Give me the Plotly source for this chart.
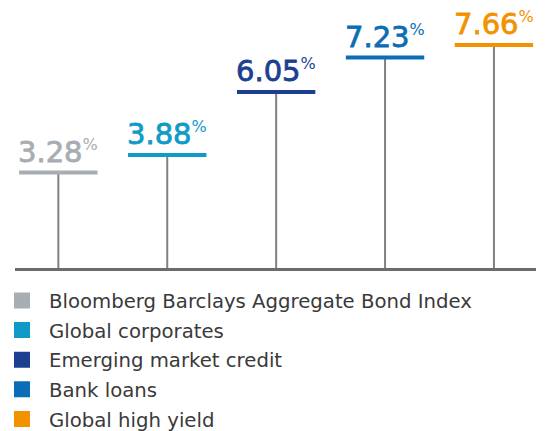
import plotly.graph_objects as go

categories = ["Bloomberg Barclays Aggregate Bond Index", "Global corporates",
              "Emerging market credit", "Bank loans", "Global high yield"]
values = [3.28, 3.88, 6.05, 7.23, 7.66]
colors = ["#A7ADB3", "#0E9BC6", "#1D3F91", "#0B6DB5", "#F39200"]

xs = list(range(len(categories)))
fig = go.Figure()

# stems (from baseline to value) via error bars, and colored caps
for i, (cat, v, c) in enumerate(zip(categories, values, colors)):
    fig.add_trace(go.Scatter(
        x=[xs[i]], y=[v], mode="markers", showlegend=False, hoverinfo="skip",
        marker=dict(symbol="line-ew", size=56, color=c, line=dict(width=4, color=c)),
        error_y=dict(type="data", symmetric=False, array=[0], arrayminus=[v],
                     width=0, thickness=2, color="#808080"),
    ))

# legend entries
for i, (cat, c) in enumerate(zip(categories, colors)):
    fig.add_trace(go.Scatter(
        x=[None], y=[None], mode="markers", name=cat, legendgroup=f"g{i}",
        marker=dict(symbol="square", size=16, color=c),
    ))

for i, (v, c) in enumerate(zip(values, colors)):
    fig.add_annotation(
        x=xs[i], y=v, xref="x", yref="y", xanchor="center", yanchor="bottom",
        yshift=2, showarrow=False,
        text=(f"<span style='stroke:{c};stroke-width:0.8px'>{v:.2f}</span>"
              f"<sup><span style='font-size:16px'>%</span></sup>"),
        font=dict(family="DejaVu Sans", size=29, color=c),
    )

fig.update_layout(
    width=548, height=431,
    margin=dict(l=15, r=12, t=0, b=163, autoexpand=False),
    paper_bgcolor="white", plot_bgcolor="white",
    xaxis=dict(range=[-0.398, 4.386], showgrid=False, zeroline=False,
               showticklabels=False, showline=True, linecolor="#6B6B6B",
               linewidth=3, ticks=""),
    yaxis=dict(range=[0, 9.21], showgrid=False, zeroline=False,
               showticklabels=False, showline=False, ticks=""),
    showlegend=True,
    legend=dict(x=-0.0384, xanchor="left", y=-0.049, yanchor="top",
                orientation="v", tracegroupgap=1, itemwidth=44,
                font=dict(family="DejaVu Sans", size=19.7, color="#3A3A3A"),
                bgcolor="rgba(0,0,0,0)"),
)

fig.write_html("out.html", config={"displayModeBar": False},
               post_script="document.body.style.margin='0';")
